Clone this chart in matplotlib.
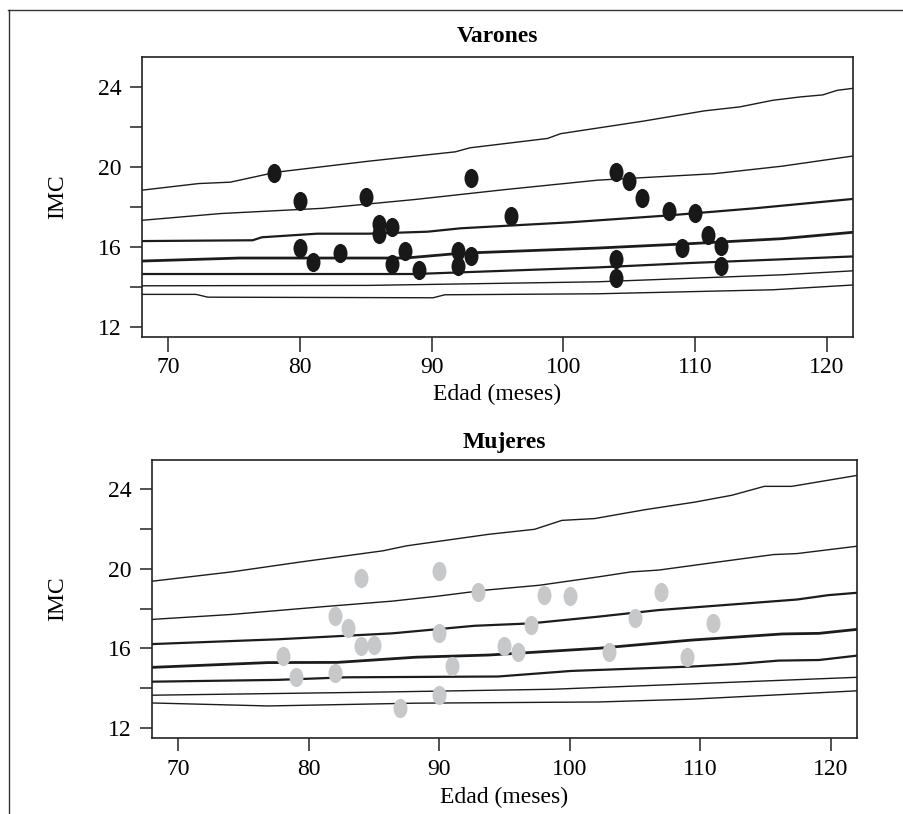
import numpy as np
import matplotlib
matplotlib.use("Agg")
import matplotlib.pyplot as plt
from matplotlib.path import Path
from matplotlib.transforms import Affine2D
from matplotlib.lines import Line2D

plt.rcParams['font.family'] = ['Liberation Serif', 'DejaVu Serif']

# ---- Varones: percentile curves (edad en meses, IMC) ----
v_p97_x = [68, 72.3, 74.7, 78.2, 85.2, 91.8, 92.9, 98.8, 99.8, 106.1, 110.7, 113.4, 115.9, 118, 119.7, 120.8, 122]
v_p97_y = [18.83, 19.16, 19.23, 19.73, 20.28, 20.75, 20.95, 21.42, 21.66, 22.29, 22.8, 23.0, 23.33, 23.5, 23.6, 23.83, 23.93]
v_p90_x = [68, 74, 81.7, 88.7, 95.6, 102.6, 108.6, 111.4, 116.6, 122]
v_p90_y = [17.32, 17.66, 17.92, 18.36, 18.86, 19.33, 19.55, 19.65, 20.03, 20.54]
v_p75_x = [68, 76.4, 77.1, 81.3, 85.2, 89.7, 92.2, 100.5, 107.9, 114.5, 122]
v_p75_y = [16.28, 16.32, 16.47, 16.65, 16.65, 16.75, 16.92, 17.22, 17.56, 17.92, 18.39]
v_p50_x = [68, 75.4, 88, 92.2, 102.6, 109.6, 116.6, 122]
v_p50_y = [15.28, 15.43, 15.43, 15.67, 15.93, 16.15, 16.4, 16.72]
v_p25_x = [68, 88.7, 102.6, 109.6, 122]
v_p25_y = [14.63, 14.63, 14.96, 15.18, 15.51]
v_p10_x = [68, 85.2, 102.6, 116.6, 122]
v_p10_y = [14.04, 14.06, 14.24, 14.59, 14.79]
v_p3_x = [68, 72.1, 73, 90.1, 91, 102.6, 115.9, 122]
v_p3_y = [13.61, 13.61, 13.47, 13.44, 13.59, 13.64, 13.84, 14.08]

# Varones: observaciones
v_edad = [78, 80, 85, 93, 104, 105, 106, 108, 110, 96, 86, 87, 86, 111,
          80, 81, 83, 88, 87, 89, 92, 92, 93, 109, 112, 112, 104, 104]
v_imc = [19.7, 18.3, 18.5, 19.45, 19.75, 19.28, 18.44, 17.77, 17.69, 17.52, 17.14, 16.97, 16.64, 16.6,
         15.93, 15.21, 15.68, 15.8, 15.13, 14.85, 15.8, 15.01, 15.55, 15.93, 16.02, 15.01, 15.4, 14.43]

# ---- Mujeres: percentile curves ----
m_p97_x = [68, 74.1, 79.4, 85.7, 87.5, 93.8, 97.3, 99.4, 101.9, 105.8, 109.6, 112.4, 114.9, 117, 122]
m_p97_y = [19.38, 19.85, 20.35, 20.91, 21.16, 21.74, 21.99, 22.44, 22.53, 22.98, 23.36, 23.7, 24.15, 24.15, 24.7]
m_p90_x = [68, 74.1, 81.1, 86.4, 89.9, 93.5, 97.7, 102.2, 104.7, 106.8, 111.4, 115.6, 117.4, 122]
m_p90_y = [17.46, 17.71, 18.1, 18.38, 18.63, 18.93, 19.18, 19.6, 19.85, 19.94, 20.35, 20.72, 20.77, 21.14]
m_p75_x = [68, 77.6, 86.4, 92.7, 97.0, 102.2, 106.8, 117.4, 119.8, 122]
m_p75_y = [16.22, 16.46, 16.76, 17.14, 17.26, 17.6, 17.93, 18.46, 18.68, 18.8]
m_p50_x = [68, 76.9, 82.2, 88.2, 93.8, 102.2, 109.3, 116.3, 119.1, 122]
m_p50_y = [15.05, 15.29, 15.3, 15.56, 15.67, 16.01, 16.42, 16.73, 16.76, 16.96]
m_p25_x = [68, 77.6, 82.9, 94.5, 100.1, 109.3, 112.8, 116, 119.1, 122]
m_p25_y = [14.33, 14.42, 14.55, 14.59, 14.87, 15.09, 15.22, 15.39, 15.42, 15.64]
m_p10_x = [68, 84.7, 98.7, 109.3, 122]
m_p10_y = [13.65, 13.8, 13.95, 14.22, 14.55]
m_p3_x = [68, 76.9, 88.2, 102.2, 109.3, 122]
m_p3_y = [13.26, 13.11, 13.25, 13.31, 13.45, 13.87]

# Mujeres: observaciones
m_edad = [84, 90, 93, 98, 100, 107, 82, 83, 105, 111, 97, 90, 84, 85,
          95, 96, 78, 103, 109, 91, 79, 82, 90, 87]
m_imc = [19.52, 19.89, 18.85, 18.68, 18.65, 18.82, 17.63, 17.01, 17.51, 17.28, 17.18, 16.79, 16.14, 16.17,
         16.14, 15.84, 15.62, 15.84, 15.56, 15.14, 14.59, 14.75, 13.67, 13.0]

x_ticks = [70, 80, 90, 100, 110, 120]
y_ticks = [12, 14, 16, 18, 20, 22, 24]
y_labels = ['12', '', '16', '', '20', '', '24']

lw = [1.0, 1.0, 1.6, 2.0, 1.6, 1.0, 1.0]   # p97 .. p3
line_col = '#1c1c1c'

# ellipse marker
ell = Path.unit_circle().transformed(Affine2D().scale(0.73, 1.0))

fig = plt.figure(figsize=(9.04, 8.14), dpi=100)

# page frame (top and left edges)
fig.add_artist(Line2D([0.009, 1.0], [0.988, 0.988], transform=fig.transFigure, color='#333333', lw=1.0))
fig.add_artist(Line2D([0.010, 0.010], [0.0, 0.988], transform=fig.transFigure, color='#333333', lw=1.0))


def panel(rect, curves, edad, imc, col, title, title_y, tlen, tpad, xlab_y):
    ax = fig.add_axes(rect)
    for (cx, cy), w in zip(curves, lw):
        ax.plot(cx, cy, color=line_col, lw=w, solid_joinstyle='round', zorder=2)
    ax.plot(edad, imc, linestyle='none', marker=ell, markersize=13.8,
            markerfacecolor=col, markeredgewidth=0, zorder=3)
    ax.set_xlim(68, 122)
    ax.set_ylim(11.5, 25.5)
    ax.set_xticks(x_ticks)
    ax.set_yticks(y_ticks)
    ax.set_yticklabels(y_labels)
    ax.tick_params(axis='x', length=tlen, width=1.1, pad=tpad, labelsize=17, color='#222222')
    ax.tick_params(axis='y', length=8.4, width=1.1, pad=6.5, labelsize=17, color='#222222')
    for s in ax.spines.values():
        s.set_linewidth(1.2)
        s.set_color('#222222')
    ax.text(0.5, title_y, title, transform=ax.transAxes, ha='center', va='baseline',
            fontsize=17, fontweight='bold')
    x0, y0, w, h = rect
    fig.text(57.5 / 904, y0 + h / 2, 'IMC', rotation=90, ha='center', va='center', fontsize=17)
    fig.text(x0 + w / 2, xlab_y, 'Edad (meses)', ha='center', va='center', fontsize=17)
    return ax


var_curves = [(v_p97_x, v_p97_y), (v_p90_x, v_p90_y), (v_p75_x, v_p75_y), (v_p50_x, v_p50_y),
              (v_p25_x, v_p25_y), (v_p10_x, v_p10_y), (v_p3_x, v_p3_y)]
muj_curves = [(m_p97_x, m_p97_y), (m_p90_x, m_p90_y), (m_p75_x, m_p75_y), (m_p50_x, m_p50_y),
              (m_p25_x, m_p25_y), (m_p10_x, m_p10_y), (m_p3_x, m_p3_y)]

panel([0.1571, 0.5866, 0.7865, 0.3434], var_curves, v_edad, v_imc, '#181818', 'Varones', 1.052,
      11.0, 3.6, 1 - 394 / 814)
panel([0.1681, 0.0934, 0.7799, 0.3421], muj_curves, m_edad, m_imc, '#c6c8ca', 'Mujeres', 1.043,
      9.2, 5.8, 1 - 797.7 / 814)

fig.savefig('out.png', dpi=100)
